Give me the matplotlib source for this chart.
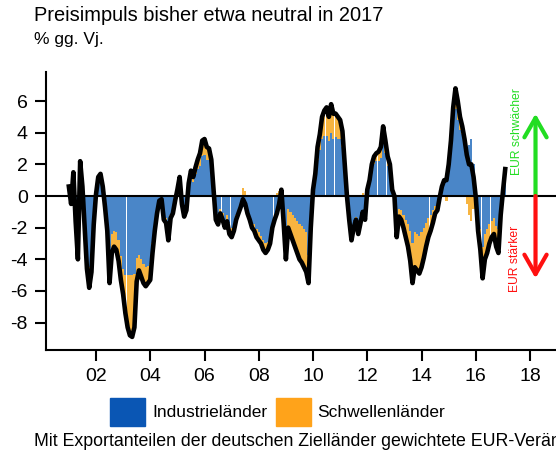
import numpy as np
import matplotlib.pyplot as plt
from matplotlib.patches import Patch

plt.rcParams['font.family'] = 'Liberation Sans'
plt.rcParams['axes.unicode_minus'] = False

# Beitraege zur EUR-Veraenderung (% gg. Vj.), Monatswerte ab Jan 2001
# Industrielaender
industrie = [
    0.6, -0.4, 1.3, -1.3, -3.2, 2.0, 0.5, -1.4, -3.4, -4.5, -3.8, -1.4,   # 2001
    0.1, 1.0, 1.1, 0.5, -0.5, -1.5, -4.0, -2.4, -2.2, -2.3, -2.8, -3.8,   # 2002
    -4.6, -5.0, -5.0, -5.0, -5.0, -4.9, -3.9, -3.7, -4.0, -4.3, -4.5, -4.4,  # 2003
    -4.3, -3.0, -1.9, -1.0, -0.3, -0.2, -1.3, -1.4, -2.4, -1.2, -0.9, -0.3,  # 2004
    0.4, 1.1, -0.5, -1.2, -0.8, 0.6, 1.2, 0.9, 1.4, 1.7, 1.9, 2.5,        # 2005
    2.6, 2.3, 2.3, 1.8, 0.3, -1.1, -1.3, -0.8, -1.1, -1.5, -1.2, -1.8,    # 2006
    -2.0, -1.7, -1.2, -0.9, -0.7, -0.7, -0.8, -1.0, -1.3, -1.7, -1.8, -2.1,  # 2007
    -2.3, -2.5, -2.8, -3.0, -2.9, -2.6, -1.8, -1.5, -1.3, -0.8, 0.2, -1.1,   # 2008
    -2.2, -0.8, -1.0, -1.2, -1.4, -1.6, -1.8, -1.9, -2.1, -2.3, -3.7, -1.2,  # 2009
    0.3, 1.1, 2.3, 2.9, 3.6, 3.8, 3.8, 3.5, 4.0, 3.6, 3.7, 3.6,           # 2010
    3.6, 3.1, 1.5, 0.0, -1.2, -2.2, -1.6, -1.3, -1.9, -1.5, -1.2, -1.3,   # 2011
    0.3, 0.8, 1.6, 2.0, 2.2, 2.2, 2.4, 3.4, 2.7, 1.9, 1.6, 0.3,           # 2012
    0.0, -1.8, -0.8, -0.9, -1.2, -1.5, -1.8, -2.2, -3.0, -2.3, -2.4, -2.5,  # 2013
    -2.3, -2.0, -1.7, -1.4, -1.2, -0.9, -0.6, -0.5, 0.0, 0.6, 1.0, 1.3,   # 2014
    1.7, 2.9, 4.6, 5.5, 4.8, 4.2, 3.9, 3.4, 3.1, 3.2, 3.6, 2.0,           # 2015
    -0.1, -1.4, -2.1, -3.2, -2.4, -2.1, -1.8, -1.6, -1.4, -1.9, -2.1, -0.8,  # 2016
    0.2, 1.4,                                                             # 2017
]
# Schwellenlaender
schwellen = [
    0.0, -0.1, 0.2, -0.3, -0.8, 0.2, 0.1, -0.6, -1.2, -1.3, -1.0, -0.4,
    0.0, 0.2, 0.3, 0.1, -0.2, -0.7, -1.5, -1.2, -1.0, -1.1, -1.3, -1.5,
    -1.6, -2.4, -3.3, -3.8, -3.9, -3.4, -1.5, -1.0, -1.1, -1.2, -1.2, -1.1,
    -1.0, -0.6, -0.3, -0.1, 0.0, 0.0, -0.2, -0.3, -0.4, -0.2, -0.2, 0.0,
    0.0, 0.1, 0.0, -0.1, -0.1, 0.2, 0.4, 0.3, 0.4, 0.6, 0.8, 1.0,
    1.0, 0.8, 0.7, 0.5, 0.1, -0.4, -0.5, -0.3, -0.4, -0.5, -0.4, -0.6,
    -0.6, -0.5, -0.3, -0.2, 0.0, 0.5, 0.3, -0.1, -0.2, -0.3, -0.4, -0.5,
    -0.5, -0.5, -0.6, -0.6, -0.5, -0.4, -0.2, 0.0, 0.2, 0.3, 0.2, -0.6,
    -1.8, -1.2, -1.4, -1.6, -1.8, -2.0, -2.2, -2.3, -2.4, -2.5, -1.8, -0.8,
    0.1, 0.3, 0.8, 1.0, 1.4, 1.6, 1.8, 1.5, 1.8, 1.6, 1.5, 1.4,
    1.2, 1.0, 0.5, 0.0, -0.3, -0.6, -0.4, -0.2, -0.5, -0.2, 0.2, -0.2,
    0.1, 0.2, 0.4, 0.5, 0.5, 0.6, 0.7, 1.0, 0.8, 0.6, 0.4, 0.1,
    0.0, -0.8, -0.5, -0.6, -0.8, -1.1, -1.4, -1.9, -2.5, -2.2, -2.3, -2.4,
    -2.2, -1.9, -1.5, -1.2, -1.0, -0.8, -0.5, -0.4, -0.1, 0.0, 0.0, -0.3,
    0.3, 0.6, 1.0, 1.3, 1.2, 0.8, 0.5, 0.2, -0.5, -1.2, -1.6, -0.8,
    0.0, -0.8, -1.3, -2.0, -1.6, -1.5, -1.2, -1.0, -1.0, -1.3, -1.5, -0.4,
    0.1, 0.3,
]
start_jahr = 2001
jahr_ticks = [2002, 2004, 2006, 2008, 2010, 2012, 2014, 2016, 2018]
jahr_labels = ['02', '04', '06', '08', '10', '12', '14', '16', '18']
y_ticks = [-8, -6, -4, -2, 0, 2, 4, 6]

ind = np.array(industrie)
em = np.array(schwellen)
x = start_jahr + np.arange(len(ind)) / 12
# Schwellenlaender auf Industrielaender stapeln, wenn gleiches Vorzeichen
em_boden = np.where(np.sign(ind) == np.sign(em), ind, 0)

fig = plt.figure(figsize=(5.56, 4.54), dpi=100)
ax = fig.add_axes([0.0827, 0.229, 0.9173, 0.613])

ax.bar(x, ind, width=1 / 12 * 0.97, color='#4A86C8', linewidth=0, zorder=2)
ax.bar(x, em, bottom=em_boden, width=1 / 12 * 0.97, color='#F7B440', linewidth=0, zorder=2)
ax.plot(x, ind + em, color='black', lw=3.3, zorder=3)
ax.axhline(0, color='black', lw=1.5, zorder=4)

# Pfeile rechts
ax.annotate('', xy=(2018.2, 5.2), xytext=(2018.2, 0),
            arrowprops=dict(arrowstyle='->,head_length=0.7,head_width=0.4', color='#22DD22',
                            lw=3, mutation_scale=20, shrinkA=0, shrinkB=0), zorder=5)
ax.annotate('', xy=(2018.2, -5.2), xytext=(2018.2, 0),
            arrowprops=dict(arrowstyle='->,head_length=0.7,head_width=0.4', color='#FF1010',
                            lw=3, mutation_scale=20, shrinkA=0, shrinkB=0), zorder=5)
ax.text(2017.53, 4.05, 'EUR schwächer', color='#22DD22', rotation=90, fontsize=8.7,
        ha='center', va='center')
ax.text(2017.45, -4.0, 'EUR stärker', color='#FF1010', rotation=90, fontsize=8.7,
        ha='center', va='center')

ax.set_xlim(2000.157, 2018.955)
ax.set_ylim(-9.73, 7.85)
ax.set_xticks(jahr_ticks)
ax.set_xticklabels(jahr_labels)
ax.set_yticks(y_ticks)
ax.tick_params(labelsize=14, length=8, width=1.5, pad=5)
ax.spines['top'].set_visible(False)
ax.spines['right'].set_visible(False)
ax.spines['left'].set_linewidth(1.5)
ax.spines['bottom'].set_linewidth(1.5)

fig.text(0.0606, 0.965, 'Preisimpuls bisher etwa neutral in 2017', fontsize=14.4, va='center')
fig.text(0.0606, 0.914, '% gg. Vj.', fontsize=12.5, va='center')

griffe = [Patch(color='#0A56B4'), Patch(color='#FFA31A')]
fig.legend(griffe, ['Industrieländer', 'Schwellenländer'], loc='center left',
           bbox_to_anchor=(0.183, 0.0925), ncol=2, frameon=False, fontsize=12.5,
           handlelength=2.0, handleheight=2.1, handletextpad=0.4, columnspacing=0.5,
           borderpad=0)
fig.text(0.0606, 0.027, 'Mit Exportanteilen der deutschen Zielländer gewichtete EUR-Veränderung',
         fontsize=12.8, va='center')

plt.savefig('out.png', dpi=100)
